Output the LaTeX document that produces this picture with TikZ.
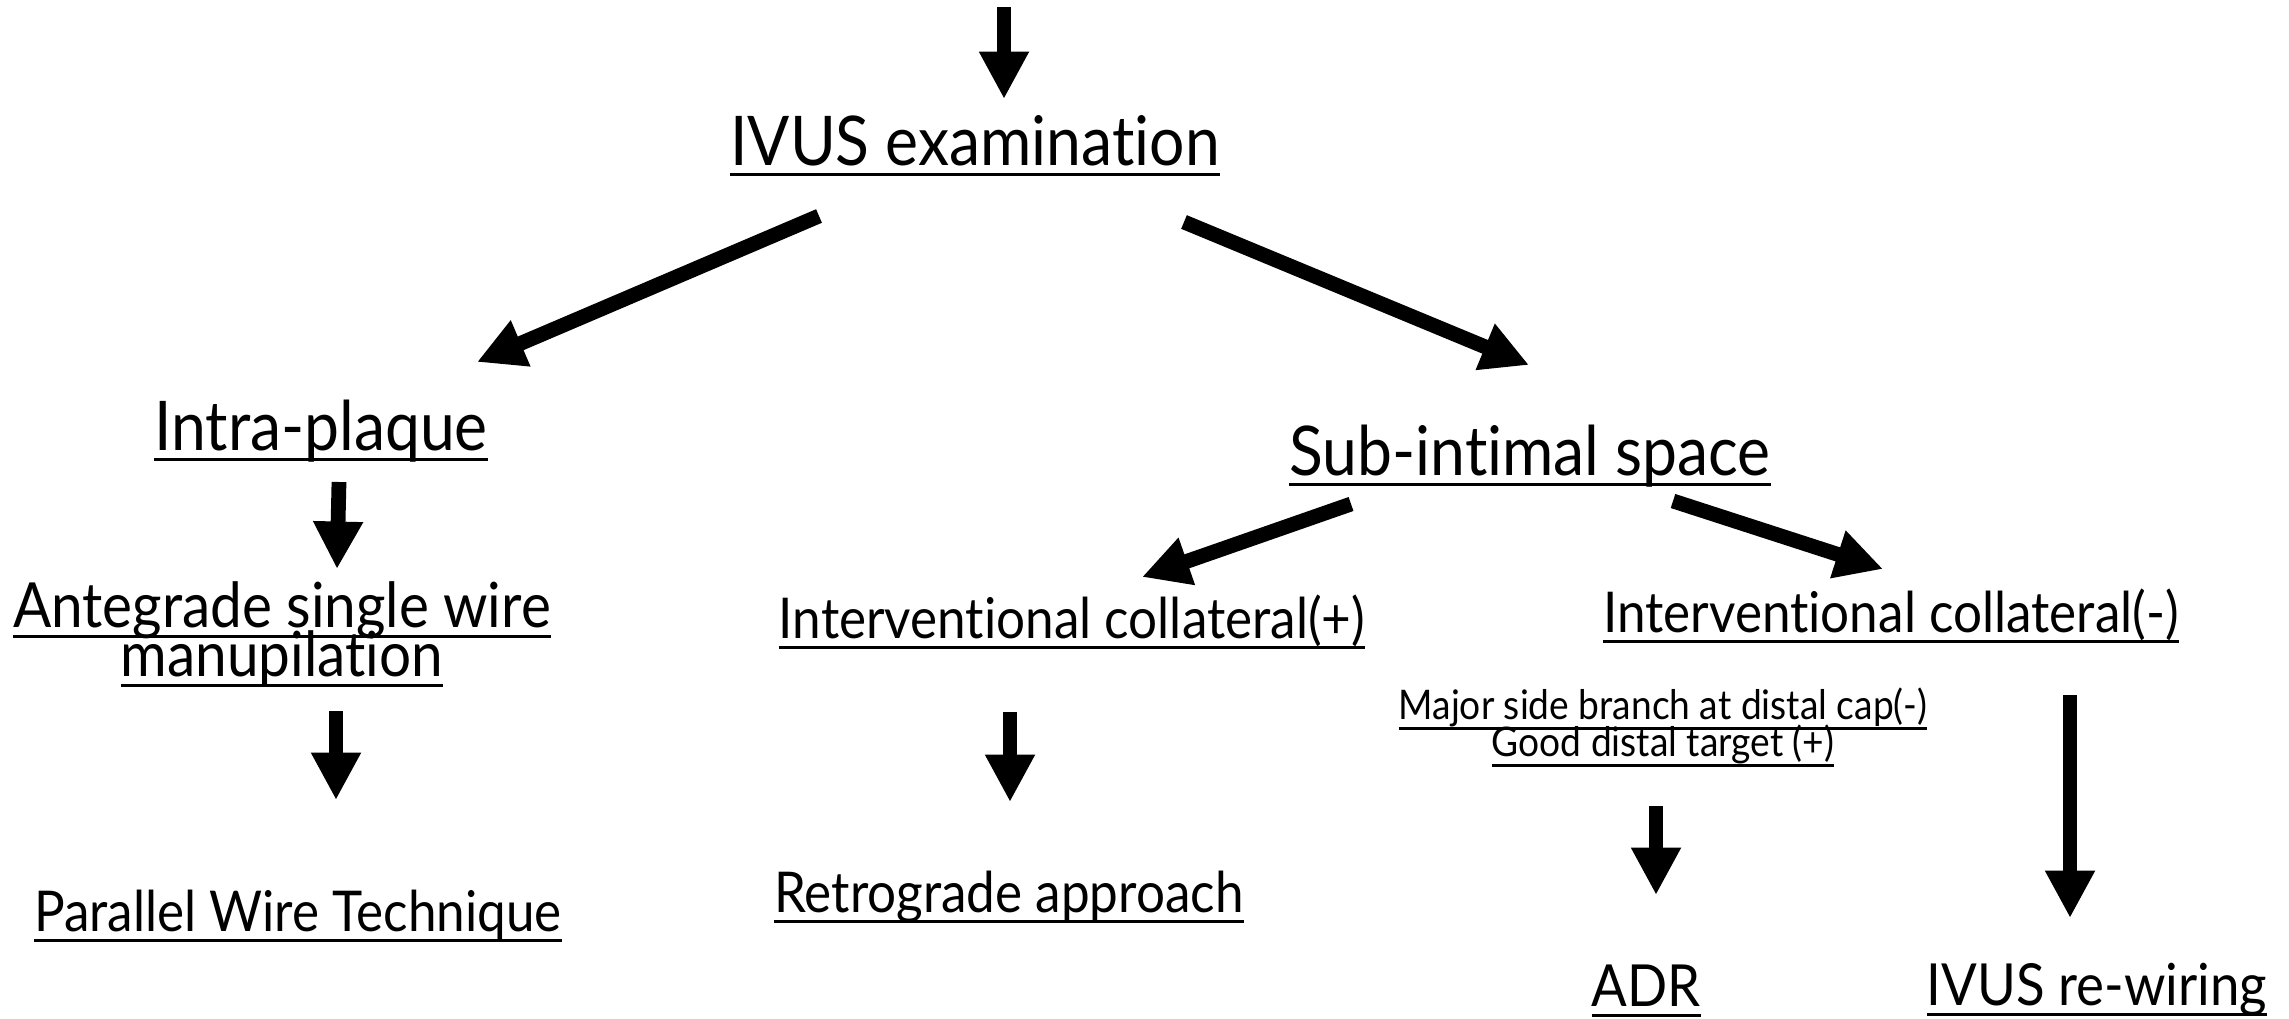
\documentclass[tikz,border=0pt]{standalone}
\usepackage{fontspec}
\setmainfont[FakeStretch=0.91, Ligatures=NoCommon]{Lato}
\usetikzlibrary{arrows.meta,calc}

% underline at a fixed depth below the baseline
\newcommand{\uln}[1]{\setbox0\hbox{#1}\rlap{\vrule width\wd0 height -2.2pt depth 3.1pt}\box0}

\tikzset{
  flow/.style={line width=4.2pt, -{Triangle[width=13.3pt,length=13.5pt]}},
  bigtxt/.style={anchor=base, inner sep=0pt, font=\fontsize{19.5}{23}\selectfont},
  twoline/.style={anchor=base, inner sep=0pt, align=center,
    font={\fontsize{17.7}{13.8}\selectfont\lineskiplimit=-100pt}},
  midtxt/.style={anchor=base, inner sep=0pt, font=\fontsize{16}{19}\selectfont},
  lowtxt/.style={anchor=base, inner sep=0pt, font=\fontsize{16.5}{19}\selectfont},
  smalltxt/.style={anchor=base, inner sep=0pt, align=center,
    font={\fontsize{11.6}{10.5}\selectfont\lineskiplimit=-100pt}},
}

\begin{document}
\begin{tikzpicture}[x=0.01cm, y=-0.01cm]
  \useasboundingbox (0,0) rectangle (2289,1018);

  % Steps
  \node[bigtxt] (ivus) at (975,165) {\uln{IVUS examination}};
  \node[bigtxt] (intra) at (321,450) {\uln{Intra-plaque}};
  \node[bigtxt] (sub) at (1530,475) {\uln{Sub-intimal space}};
  \node[twoline] (ante) at (282,676) {\uln{Antegrade single wire}\\\uln{manupilation}};
  \node[midtxt] (icplus) at (1072,638) {\uln{Interventional collateral(+)}};
  \node[midtxt] (icminus) at (1891,632) {\uln{Interventional collateral(-)}};
  \node[smalltxt] (branch) at (1663,756) {\uln{Major side branch at distal cap(-)}\\\uln{Good distal target (+)}};
  \node[midtxt] (pwt) at (298,931) {\uln{Parallel Wire Technique}};
  \node[midtxt] (retro) at (1009,912) {\uln{Retrograde approach}};
  \node[lowtxt] (adr) at (1646,1006) {\uln{ADR}};
  \node[lowtxt] (rewire) at (2097,1005) {\uln{IVUS re-wiring}};

  % Arrows
  \coordinate (entry) at (1004,7);
  \draw[flow] (entry) -- ($(ivus.base)+(29,-66)$);
  \draw[flow] ($(ivus.base)+(-156,51)$) -- ($(intra.base)+(156,-88)$);
  \draw[flow] ($(ivus.base)+(209,57)$) -- ($(sub.base)+(-1,-110)$);
  \draw[flow] ($(intra.base)+(18,32)$) -- ($(ante.base)+(55,-107)$);
  \draw[flow] ($(ante.base)+(54,35)$) -- ($(pwt.base)+(38,-131)$);
  \draw[flow] ($(sub.base)+(-179,29)$) -- ($(icplus.base)+(70,-61)$);
  \draw[flow] ($(sub.base)+(143,26)$) -- ($(icminus.base)+(-8,-63)$);
  \draw[flow] ($(icplus.base)+(-62,74)$) -- ($(retro.base)+(1,-110)$);
  \draw[flow] ($(branch.base)+(-7,50)$) -- ($(adr.base)+(10,-111)$);
  \draw[flow] ($(icminus.base)+(179,63)$) -- ($(rewire.base)+(-27,-87)$);
\end{tikzpicture}
\end{document}
